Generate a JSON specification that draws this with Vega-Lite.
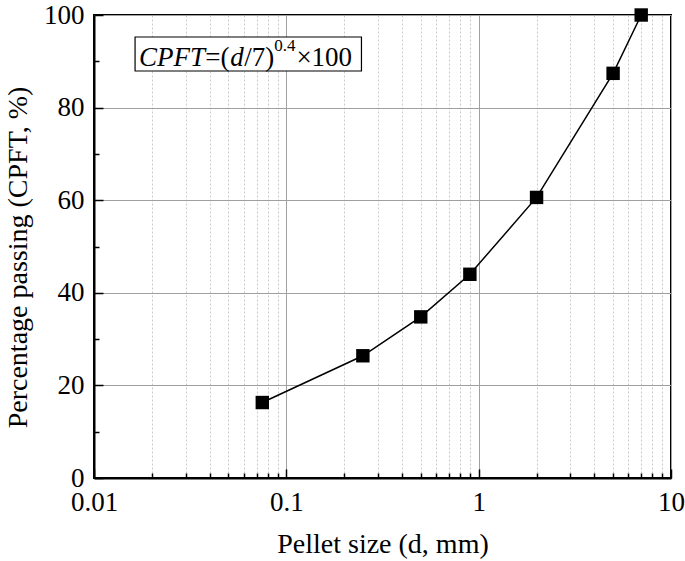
{
  "$schema": "https://vega.github.io/schema/vega-lite/v6.json",
  "width": 577,
  "height": 463,
  "autosize": {"type": "none"},
  "padding": {"left": 94, "top": 15, "right": 14, "bottom": 83},
  "background": "white",
  "config": {
    "font": "Liberation Serif",
    "view": {"stroke": "black", "strokeWidth": 2}
  },
  "data": {
    "values": [
      {"d": 0.075, "cpft": 16.3},
      {"d": 0.25, "cpft": 26.4},
      {"d": 0.5, "cpft": 34.8},
      {"d": 0.9, "cpft": 44.0},
      {"d": 2, "cpft": 60.6},
      {"d": 5, "cpft": 87.4},
      {"d": 7, "cpft": 100}
    ]
  },
  "layer": [
    {
      "mark": {"type": "line", "color": "black", "strokeWidth": 1.5},
      "encoding": {
        "x": {
          "field": "d",
          "type": "quantitative",
          "scale": {"type": "log", "domain": [0.01, 10]},
          "axis": {
            "values": [0.01, 0.02, 0.03, 0.04, 0.05, 0.06, 0.07, 0.08, 0.09, 0.1, 0.2, 0.3, 0.4, 0.5, 0.6, 0.7, 0.8, 0.9, 1, 2, 3, 4, 5, 6, 7, 8, 9, 10],
            "labelExpr": "abs(log(datum.value)/LN10 - round(log(datum.value)/LN10)) < 1e-6 ? format(datum.value, '~g') : ''",
            "labelFlush": false,
            "labelOverlap": false,
            "labelFontSize": 27,
            "labelColor": "black",
            "labelPadding": 20,
            "grid": true,
            "gridWidth": 1,
            "gridColor": {"condition": {"test": "abs(log(datum.value)/LN10 - round(log(datum.value)/LN10)) < 1e-6", "value": "#a0a0a0"}, "value": "#c8c8c8"},
            "gridDash": {"condition": {"test": "abs(log(datum.value)/LN10 - round(log(datum.value)/LN10)) < 1e-6", "value": []}, "value": [2, 2]},
            "tickColor": "black",
            "tickWidth": 1.5,
            "tickSize": {"condition": {"test": "abs(log(datum.value)/LN10 - round(log(datum.value)/LN10)) < 1e-6", "value": -9}, "value": -5},
            "domainColor": "black",
            "domainWidth": 2,
            "title": "Pellet size (d, mm)",
            "titleFontSize": 28,
            "titleFontWeight": "normal",
            "titleColor": "black",
            "titleBaseline": "alphabetic",
            "titleY": 74
          }
        },
        "y": {
          "field": "cpft",
          "type": "quantitative",
          "scale": {"domain": [0, 100]},
          "axis": {
            "values": [0, 10, 20, 30, 40, 50, 60, 70, 80, 90, 100],
            "labelExpr": "datum.value % 20 == 0 ? datum.label : ''",
            "labelOverlap": false,
            "labelFlush": false,
            "labelFontSize": 27,
            "labelColor": "black",
            "labelPadding": 19,
            "grid": true,
            "gridWidth": 1,
            "gridColor": "#a0a0a0",
            "gridOpacity": {"condition": {"test": "datum.value % 20 == 0", "value": 1}, "value": 0},
            "tickColor": "black",
            "tickWidth": 1.5,
            "tickSize": {"condition": {"test": "datum.value % 20 == 0", "value": -9}, "value": -5},
            "domainColor": "black",
            "domainWidth": 2,
            "title": "Percentage passing (CPFT, %)",
            "titleFontSize": 28,
            "titleFontWeight": "normal",
            "titleColor": "black",
            "titleBaseline": "middle",
            "titleX": -76,
            "titleY": 242
          }
        }
      }
    },
    {
      "mark": {"type": "point", "shape": "square", "filled": true, "color": "black", "size": 180, "opacity": 1},
      "encoding": {
        "x": {"field": "d", "type": "quantitative"},
        "y": {"field": "cpft", "type": "quantitative"}
      }
    },
    {
      "data": {"values": [{}]},
      "mark": {"type": "rect", "fill": "white", "stroke": "black", "strokeWidth": 1.2},
      "encoding": {
        "x": {"datum": 0.01635},
        "x2": {"datum": 0.2458},
        "y": {"datum": 95.25},
        "y2": {"datum": 87.9}
      }
    },
    {
      "data": {"values": [{}]},
      "mark": {"type": "text", "align": "left", "baseline": "alphabetic", "fontSize": 27, "fontStyle": "italic", "color": "black"},
      "encoding": {"x": {"datum": 0.01715}, "y": {"datum": 89.0}, "text": {"value": "CPFT"}}
    },
    {
      "data": {"values": [{}]},
      "mark": {"type": "text", "align": "left", "baseline": "alphabetic", "fontSize": 27, "color": "black"},
      "encoding": {"x": {"datum": 0.03785}, "y": {"datum": 89.0}, "text": {"value": "=("}}
    },
    {
      "data": {"values": [{}]},
      "mark": {"type": "text", "align": "left", "baseline": "alphabetic", "fontSize": 27, "fontStyle": "italic", "color": "black"},
      "encoding": {"x": {"datum": 0.0511}, "y": {"datum": 89.0}, "text": {"value": "d"}}
    },
    {
      "data": {"values": [{}]},
      "mark": {"type": "text", "align": "left", "baseline": "alphabetic", "fontSize": 27, "color": "black"},
      "encoding": {"x": {"datum": 0.0604}, "y": {"datum": 89.0}, "text": {"value": "/7)"}}
    },
    {
      "data": {"values": [{}]},
      "mark": {"type": "text", "align": "left", "baseline": "alphabetic", "fontSize": 17, "color": "black"},
      "encoding": {"x": {"datum": 0.0866}, "y": {"datum": 92.2}, "text": {"value": "0.4"}}
    },
    {
      "data": {"values": [{}]},
      "mark": {"type": "text", "align": "left", "baseline": "alphabetic", "fontSize": 27, "color": "black"},
      "encoding": {"x": {"datum": 0.1128}, "y": {"datum": 89.0}, "text": {"value": "×100"}}
    }
  ]
}
